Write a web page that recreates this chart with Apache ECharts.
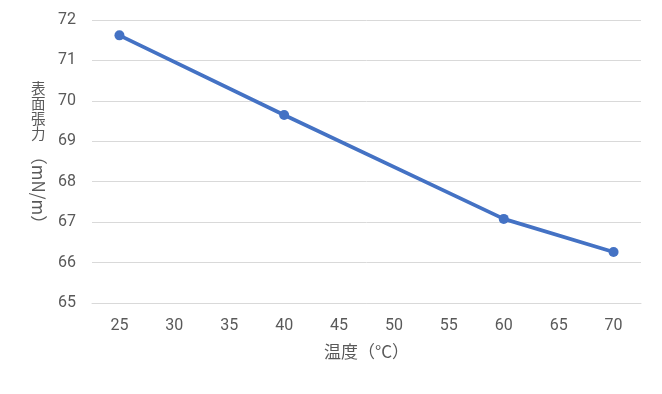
<!DOCTYPE html>
<html>
<head>
<meta charset="utf-8">
<script src="https://cdn.jsdelivr.net/npm/echarts@6/dist/echarts.min.js"></script>
<style>html,body{margin:0;padding:0;background:#fff}#c{width:662px;height:394px}</style>
</head>
<body>
<div id="c"></div>
<script>
const categories = ['25','30','35','40','45','50','55','60','65','70'];
const temps = [25, 40, 60, 70];
const tension = [71.62, 69.65, 67.08, 66.26];
const yTicks = [65, 66, 67, 68, 69, 70, 71, 72];

const FONT = '"Noto Sans CJK JP", "Noto Sans", sans-serif';
const NUMFONT = 'Roboto, "Noto Sans", sans-serif';
const TXT = '#595959';
const chart = echarts.init(document.getElementById('c'), null, {renderer: 'canvas'});
chart.setOption({
  animation: false,
  grid: {left: 92, right: 21, top: 20, bottom: 91},
  xAxis: {
    type: 'category',
    data: categories,
    boundaryGap: true,
    name: '温度（°C）',
    nameLocation: 'middle',
    nameGap: 40,
    nameTextStyle: {color: TXT, fontSize: 17, fontFamily: FONT},
    axisTick: {show: false},
    axisLine: {lineStyle: {color: '#d9d9d9', width: 1}},
    axisLabel: {color: TXT, fontSize: 16, fontFamily: NUMFONT, margin: 15}
  },
  yAxis: {
    type: 'value',
    min: yTicks[0],
    max: yTicks[yTicks.length - 1],
    interval: 1,
    axisLine: {show: false},
    axisTick: {show: false},
    splitLine: {lineStyle: {color: '#d9d9d9', width: 1}},
    axisLabel: {color: TXT, fontSize: 16, fontFamily: NUMFONT, margin: 16, padding: [0, 0, 5, 0]}
  },
  graphic: [
    {type: 'text', left: 31, top: 81,
     style: {text: '表\n面\n張\n力', fill: TXT, fontSize: 14.5, lineHeight: 15, fontFamily: FONT}},
    {type: 'text', x: 38.5, y: 190, rotation: -Math.PI / 2,
     style: {text: '（mN/m）', fill: TXT, fontSize: 17, fontFamily: FONT, align: 'center', verticalAlign: 'middle'}}
  ],
  series: [{
    type: 'line',
    data: temps.map((t, i) => [String(t), tension[i]]),
    symbol: 'circle',
    symbolSize: 10,
    lineStyle: {color: '#4472C4', width: 3.75},
    itemStyle: {color: '#4472C4'}
  }]
});
</script>
</body>
</html>
